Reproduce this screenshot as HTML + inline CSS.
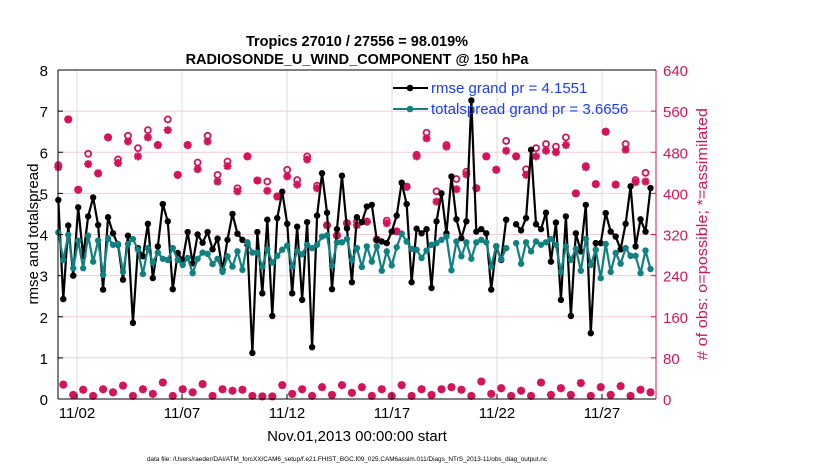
<!DOCTYPE html>
<html><head><meta charset="utf-8"><style>
body{margin:0;background:#fff;}
svg text{font-family:"Liberation Sans",Arial,sans-serif;}
</style></head><body>
<svg id="chart" width="830" height="470" viewBox="0 0 830 470" xmlns="http://www.w3.org/2000/svg">
<rect width="830" height="470" fill="#fff"/>
<g id="grid"></g>
<g id="marks"></g>
<g id="axes"></g>
<text x="357" y="46" text-anchor="middle" font-size="14.5" font-weight="bold">Tropics 27010 / 27556 = 98.019%</text>
<text x="357" y="64" text-anchor="middle" font-size="14.5" font-weight="bold">RADIOSONDE_U_WIND_COMPONENT @ 150 hPa</text>
<text transform="translate(38,234) rotate(-90)" text-anchor="middle" font-size="15">rmse and totalspread</text>
<text transform="translate(707,234) rotate(-90)" text-anchor="middle" font-size="15" textLength="252" lengthAdjust="spacingAndGlyphs" fill="#d4145a"># of obs: o=possible; *=assimilated</text>
<text x="357" y="441" text-anchor="middle" font-size="15">Nov.01,2013 00:00:00 start</text>
<text x="347" y="461" text-anchor="middle" font-size="6.6" textLength="400" lengthAdjust="spacingAndGlyphs">data file: /Users/raeder/DAI/ATM_forcXX/CAM6_setup/f.e21.FHIST_BGC.f09_025.CAM6assim.011/Diags_NTrS_2013-11/obs_diag_output.nc</text>
<g id="legend">
<line x1="393" y1="88" x2="428" y2="88" stroke="#000" stroke-width="2"/>
<circle cx="410" cy="88" r="3.3" fill="#000"/>
<text x="431" y="93" font-size="15" fill="#1a3cff">rmse grand pr = 4.1551</text>
<line x1="393" y1="109" x2="428" y2="109" stroke="#108080" stroke-width="2"/>
<circle cx="410" cy="109" r="3.3" fill="#108080"/>
<text x="431" y="114" font-size="15" fill="#1a3cff">totalspread grand pr = 3.6656</text>
</g>
</svg>
<script>
const rmse=[4.84,2.43,4.22,3.0,4.66,3.47,4.44,4.9,4.23,2.66,4.42,4.03,3.75,2.9,3.97,1.85,3.67,3.47,4.26,2.94,3.71,4.74,4.32,2.67,3.55,3.38,4.06,3.3,4.0,3.8,4.06,3.64,3.9,3.14,3.87,4.5,4.02,3.87,3.75,1.12,4.06,
2.57,4.36,2.02,4.4,5.04,4.26,2.57,4.19,2.41,4.3,1.26,4.46,5.49,4.53,2.67,4.13,5.43,4.15,2.84,4.42,4.3,4.68,4.72,3.87,3.83,3.79,4.07,4.46,5.26,4.74,2.84,4.14,4.03,4.13,2.7,4.32,5.0,4.03,5.41,4.37,
3.91,4.32,7.26,4.07,4.13,4.03,2.66,3.71,3.38,4.36,null,
4.25,4.1,4.4,6.06,4.25,4.13,4.53,3.34,4.29,2.41,4.44,2.02,4.03,3.59,4.72,1.6,3.79,3.79,4.52,4.07,3.95,3.64,4.26,5.17,3.71,4.37,4.07,5.13];
const totalspread=[4.05,3.38,3.99,3.18,3.85,3.18,3.97,3.34,3.85,3.02,3.91,3.75,3.77,3.09,3.77,3.89,3.63,3.04,3.67,3.32,3.56,3.41,3.38,3.67,3.38,3.26,3.43,3.06,3.41,3.56,3.53,3.28,3.41,3.09,3.47,3.22,3.59,3.14,3.81,3.56,3.56,
3.22,3.64,3.32,3.48,3.63,3.73,3.22,3.59,3.52,3.75,3.67,3.75,3.95,3.98,3.24,3.81,3.81,3.89,3.38,3.67,3.21,3.71,3.34,3.71,3.12,3.59,3.25,3.69,4.02,3.83,3.65,3.63,3.43,3.61,3.75,3.79,3.87,3.95,3.13,3.83,
3.47,3.81,3.41,3.81,3.87,3.81,3.22,3.72,3.40,3.67,null,
3.79,3.29,3.81,3.59,3.83,3.75,3.81,3.89,3.75,3.09,3.71,3.38,3.65,3.12,3.89,3.26,3.63,2.94,3.77,3.09,3.55,3.29,3.67,3.48,3.48,3.06,3.61,3.16];
const nAssim=[451,28,544,8,407,18,457,6,439,19,509,13,459,26,501,6,472,19,509,10,494,32,523,6,436,19,494,13,447,29,501,6,423,19,453,16,404,18,472,6,425,
5,405,5,394,27,433,10,417,19,466,6,410,23,338,8,318,27,342,12,338,23,345,6,310,19,342,6,326,27,413,6,472,19,507,8,384,19,491,23,408,
18,437,6,410,34,472,10,446,21,483,6,472,16,436,6,472,32,483,8,480,21,494,8,400,31,451,6,418,23,520,8,417,25,485,6,422,18,423,13];
const nPoss=[455,28,544,8,407,18,477,6,439,19,509,13,466,26,512,6,488,19,523,10,494,32,544,6,436,19,494,13,460,29,512,6,436,19,462,16,410,18,472,6,425,
5,423,5,394,27,446,10,426,19,472,6,415,23,338,8,318,27,342,12,345,23,345,6,310,19,347,6,326,27,413,6,475,19,518,8,404,19,494,23,428,
18,442,6,410,34,472,10,446,21,502,6,472,16,447,6,488,32,496,8,491,21,509,8,400,31,453,6,418,23,520,8,417,25,496,6,426,18,440,13];
const leftTicks=[0,1,2,3,4,5,6,7,8];
const rightTicks=[0,80,160,240,320,400,480,560,640];
const dateTicks=["11/02","11/07","11/12","11/17","11/22","11/27"];
const dateTickDays=[1,6,11,16,21,26];

const NS="http://www.w3.org/2000/svg";
const X0=58,X1=656,Y0=399,Y1=70;
const xIdx=i=>58.3+i*(650.5-58.3)/(rmse.length-1);
const xDay=d=>56+d*21;
const yL=v=>Y0-(v/8)*(Y0-Y1);
const yR=v=>Y0-(v/640)*(Y0-Y1);
const PINK="#d4145a",TEAL="#108080";
function mk(tag,attrs,parent){const e=document.createElementNS(NS,tag);for(const k in attrs)e.setAttribute(k,attrs[k]);parent.appendChild(e);return e;}
const grid=document.getElementById('grid'),marks=document.getElementById('marks'),axes=document.getElementById('axes');

leftTicks.forEach((t,k)=>{
  if(t>0&&t<8){const g=mk('line',{x1:X0,x2:X1,y1:yL(t),y2:yL(t),stroke:'#f2cbd8','stroke-width':1},grid);
  
  }
  const tl=mk('text',{x:48,y:yL(t)+6,'text-anchor':'end','font-size':15},axes);tl.textContent=t;
  
  
  mk('line',{x1:X0,x2:X0+5,y1:yL(t),y2:yL(t),stroke:'#000'},axes);
});
rightTicks.forEach(t=>{
  const tl=mk('text',{x:663,y:yR(t)+6,'font-size':15,fill:PINK},axes);tl.textContent=t;
  
  
  mk('line',{x1:X1-5,x2:X1,y1:yR(t),y2:yR(t),stroke:PINK},axes);
});
dateTicks.forEach((lab,k)=>{
  const x=xDay(dateTickDays[k]);
  const g=mk('line',{x1:x,x2:x,y1:Y1,y2:Y0,stroke:'#dcdcdc','stroke-width':1},grid);
  
  
  mk('line',{x1:x,x2:x,y1:Y0,y2:Y0-5,stroke:'#000'},axes);
  const tl=mk('text',{x:x,y:418,'text-anchor':'middle','font-size':15},axes);tl.textContent=lab;
  
  
});
mk('line',{x1:X0,x2:X1,y1:Y0,y2:Y0,stroke:'#000'},axes);
mk('line',{x1:X0,x2:X1,y1:Y1,y2:Y1,stroke:'#000'},axes);
mk('line',{x1:X0,x2:X0,y1:Y1,y2:Y0,stroke:'#000'},axes);
mk('line',{x1:X1,x2:X1,y1:Y1,y2:Y0,stroke:PINK},axes);

nPoss.forEach((v,i)=>{
  const c=mk('circle',{cx:xIdx(i),cy:yR(v),r:3,fill:'none',stroke:PINK,'stroke-width':1.8},marks);
  
  
});
nAssim.forEach((v,i)=>{
  const x=xIdx(i),y=yR(v),s=4;
  const g=mk('path',{d:`M${x-s},${y}H${x+s}M${x},${y-s}V${y+s}M${x-s*.72},${y-s*.72}L${x+s*.72},${y+s*.72}M${x-s*.72},${y+s*.72}L${x+s*.72},${y-s*.72}`,stroke:PINK,'stroke-width':2.2},marks);
  
  
});
function series(arr,color,name){
  let d='',pen=false;
  arr.forEach((v,i)=>{if(v==null){pen=false;return;}d+=(pen?'L':'M')+xIdx(i).toFixed(2)+','+yL(v).toFixed(2);pen=true;});
  const p=mk('path',{d:d,fill:'none',stroke:color,'stroke-width':2.2,'stroke-linejoin':'round'},marks);
  
  
  arr.forEach((v,i)=>{if(v==null)return;
    const c=mk('circle',{cx:xIdx(i),cy:yL(v),r:3.2,fill:color},marks);
    
    
  });
}
series(rmse,'#000','rmse');
series(totalspread,TEAL,'totalspread');
</script>
</body></html>
